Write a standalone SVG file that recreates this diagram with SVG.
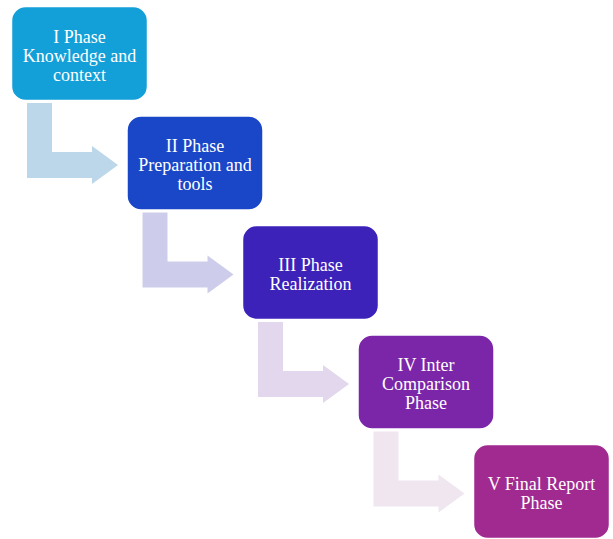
<svg xmlns="http://www.w3.org/2000/svg" width="613" height="539" viewBox="0 0 613 539">
<style>
.box{stroke:#ffffff;stroke-width:1.5}
.t{font-family:"Liberation Serif","Times New Roman",serif;font-size:18px;fill:#ffffff;text-anchor:middle}
</style>
<defs>
<path id="arr" d="M27,103 H52 V152 H92 V146 L118,165 L92,184 V178 H27 Z"/>
</defs>
<rect width="613" height="539" fill="#ffffff"/>
<g id="connectors">
<use href="#arr" fill="#BCD6EA"/>
<use href="#arr" fill="#CDCDEB" transform="translate(115.5,109.5)"/>
<use href="#arr" fill="#E2D7EC" transform="translate(231,219)"/>
<use href="#arr" fill="#EFE6F0" transform="translate(346.5,328.5)"/>
</g>
<g id="node1">
<rect class="box" x="11.5" y="6.5" width="136" height="94" rx="14" fill="#139FD7"/>
<text class="t" x="79.5" y="43">I Phase</text>
<text class="t" x="79.5" y="62">Knowledge and</text>
<text class="t" x="79.5" y="81">context</text>
</g>
<g id="node2">
<rect class="box" x="127" y="116" width="136" height="94" rx="14" fill="#1A46C8"/>
<text class="t" x="195" y="152">II Phase</text>
<text class="t" x="195" y="171">Preparation and</text>
<text class="t" x="195" y="190">tools</text>
</g>
<g id="node3">
<rect class="box" x="242.5" y="225.5" width="136" height="94" rx="14" fill="#3C22B9"/>
<text class="t" x="310.5" y="271">III Phase</text>
<text class="t" x="310.5" y="290">Realization</text>
</g>
<g id="node4">
<rect class="box" x="358" y="335" width="136" height="94" rx="14" fill="#7B25A9"/>
<text class="t" x="426" y="371">IV Inter</text>
<text class="t" x="426" y="390">Comparison</text>
<text class="t" x="426" y="409">Phase</text>
</g>
<g id="node5">
<rect class="box" x="473.5" y="444.5" width="136" height="94" rx="14" fill="#A02A90"/>
<text class="t" x="541.5" y="490">V Final Report</text>
<text class="t" x="541.5" y="509">Phase</text>
</g>
</svg>
